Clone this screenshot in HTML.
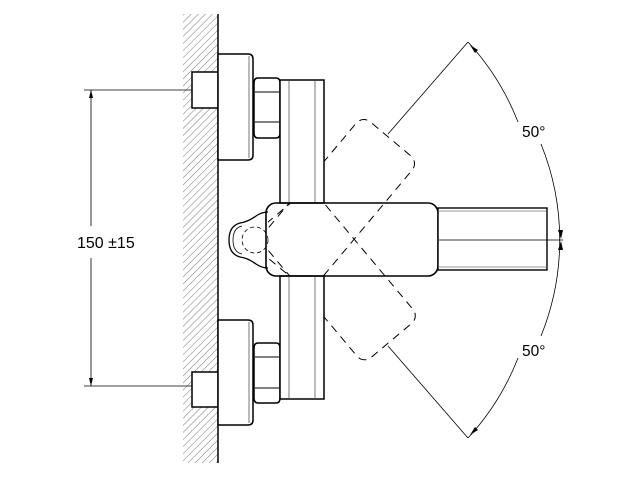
<!DOCTYPE html>
<html><head><meta charset="utf-8"><style>
html,body{margin:0;padding:0;background:#fff}
svg{display:block}
text{font-family:"Liberation Sans",sans-serif;fill:#000}
</style></head><body>
<svg width="640" height="480" viewBox="0 0 640 480" xmlns="http://www.w3.org/2000/svg">
<defs>
<pattern id="h" width="5" height="5" patternUnits="userSpaceOnUse" patternTransform="rotate(45)">
<line x1="0" y1="0" x2="0" y2="5" stroke="#555" stroke-width="0.8"/>
</pattern>
</defs>
<rect x="183" y="14" width="35" height="449" fill="url(#h)"/>
<line x1="218" y1="14" x2="218" y2="463" stroke="#000" stroke-width="1.5"/>

<!-- dimension 150 -->
<g stroke="#000" stroke-width="0.8" fill="none">
<line x1="84" y1="90" x2="192" y2="90"/>
<line x1="84" y1="386" x2="192" y2="386"/>
<line x1="91" y1="90" x2="91" y2="226"/>
<line x1="91" y1="258" x2="91" y2="386"/>
</g>
<polygon points="91,90 89,98 93,98" fill="#000"/>
<polygon points="91,386 89,378 93,378" fill="#000"/>
<text x="77" y="248" font-size="16">150 ±15</text>

<!-- dashed rotated handles -->
<g fill="none" stroke="#000" stroke-width="1" stroke-dasharray="8,6">
<rect x="268" y="203" width="170" height="73" rx="10" transform="rotate(-50 306.5 240)"/>
<rect x="268" y="203" width="170" height="73" rx="10" transform="rotate(50 306.5 240)"/>
</g>

<g fill="#fff" stroke="#000" stroke-width="1.5">
<rect x="192" y="72" width="26" height="36"/>
<path d="M218,54 H248 Q253,54 253,59 V155 Q253,160 248,160 H218 Z"/>
<path d="M258,78 H276 Q280,78 280,83 V133 Q280,138 276,138 H258 Q254,138 254,133 V83 Q254,78 258,78 Z"/>
<rect x="280" y="80" width="44" height="123"/>
<rect x="192" y="372" width="26" height="35"/>
<path d="M218,320 H248 Q253,320 253,325 V420 Q253,425 248,425 H218 Z"/>
<path d="M258,343 H276 Q280,343 280,348 V398 Q280,403 276,403 H258 Q254,403 254,398 V348 Q254,343 258,343 Z"/>
<rect x="280" y="276" width="44" height="123"/>
</g>
<g stroke="#777" stroke-width="1">
<line x1="249" y1="56" x2="249" y2="158"/>
<line x1="249" y1="322" x2="249" y2="423"/>
<line x1="289" y1="81" x2="289" y2="202"/>
<line x1="315" y1="81" x2="315" y2="202"/>
<line x1="289" y1="277" x2="289" y2="398"/>
<line x1="315" y1="277" x2="315" y2="398"/>
</g>
<g stroke="#000" stroke-width="1" fill="none">
<line x1="255" y1="92" x2="279" y2="92"/>
<line x1="255" y1="122" x2="279" y2="122"/>
<line x1="255" y1="357" x2="279" y2="357"/>
<line x1="255" y1="388" x2="279" y2="388"/>
</g>

<!-- knob -->
<path d="M268,212 Q262,212 256,216 Q248,222 240,223 Q229,226 229,240 Q229,254 240,257 Q248,258 256,264 Q262,268 268,268" fill="#fff" stroke="#000" stroke-width="1.3"/>
<path d="M233,240 Q233,228 242,226 M233,240 Q233,252 242,254" fill="none" stroke="#000" stroke-width="0.8"/>
<circle cx="255" cy="240" r="13" fill="none" stroke="#000" stroke-width="0.8" stroke-dasharray="4,3"/>

<!-- handle -->
<rect x="266" y="203" width="172" height="73" rx="10" fill="none" stroke="#000" stroke-width="1.6"/>
<rect x="438" y="208" width="109" height="62" fill="#fff" stroke="#000" stroke-width="1.4"/>
<line x1="439" y1="211" x2="546" y2="211" stroke="#999"/>
<line x1="439" y1="267" x2="546" y2="267" stroke="#999"/>
<line x1="439" y1="240" x2="563" y2="240" stroke="#000" stroke-width="0.8"/>

<!-- angle dimension -->
<g stroke="#000" stroke-width="0.8" fill="none">
<path d="M468,42 A255.5,255.5 0 0 1 518,122"/>
<path d="M541,144 A255.5,255.5 0 0 1 541,336"/>
<path d="M518,358 A255.5,255.5 0 0 1 468,438"/>
<line x1="468" y1="42" x2="388" y2="134"/>
<line x1="468" y1="438" x2="388" y2="346"/>
</g>
<g fill="#000">
<polygon points="470,45 478,50 475,53"/>
<polygon points="470,435 478,430 475,427"/>
<polygon points="561,239 558,230 563,230"/>
<polygon points="561,241 558,250 563,250"/>
</g>
<text x="522" y="137" font-size="15.5">50°</text>
<text x="522" y="356" font-size="15.5">50°</text>
</svg>
</body></html>
